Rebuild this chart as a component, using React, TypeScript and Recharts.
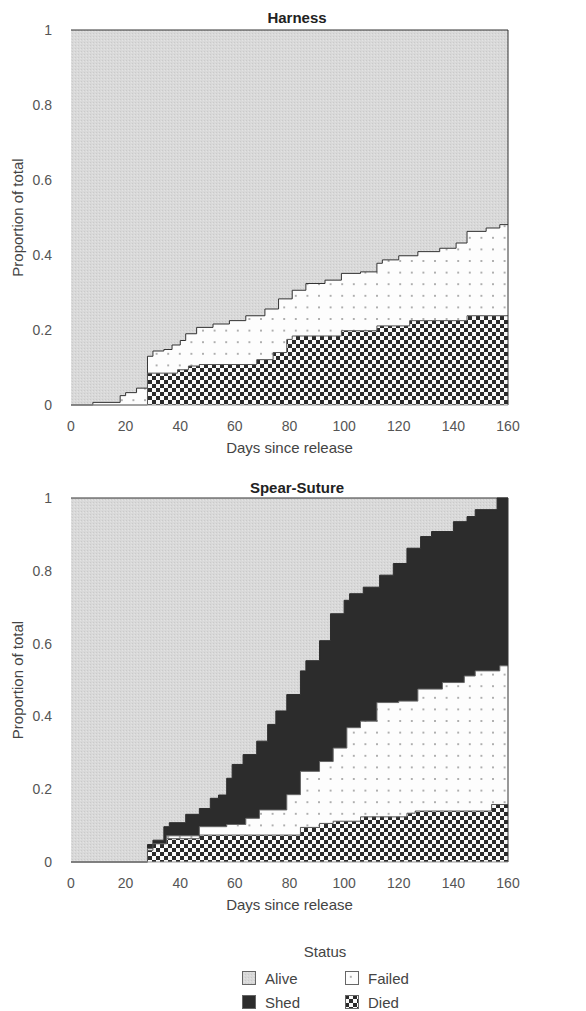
import { AreaChart, Area, XAxis, YAxis, ReferenceLine, Label } from 'recharts'

const FONT = '"Liberation Sans", Arial, sans-serif'

const dayTicks = [0, 20, 40, 60, 80, 100, 120, 140, 160]
const propTicks = [0, 0.2, 0.4, 0.6, 0.8, 1]

// everything still at large sits on top
const aliveDays = [0, 160]
const aliveTop = [1, 1]

// Harness: upper edges of the stacked bands
const harnessFailedDays = [0, 8, 18, 20, 24, 28, 30, 34, 37, 40, 42, 46, 52, 58, 64, 71, 76, 81, 86, 93, 99, 106, 112, 114, 120, 127, 135, 141, 145, 152, 157, 160]
const harnessFailedTop = [0, 0.007, 0.025, 0.033, 0.045, 0.13, 0.144, 0.148, 0.16, 0.172, 0.19, 0.207, 0.216, 0.225, 0.238, 0.256, 0.283, 0.306, 0.324, 0.333, 0.351, 0.355, 0.378, 0.387, 0.398, 0.409, 0.418, 0.432, 0.463, 0.472, 0.481, 0.481]
const harnessDiedDays = [0, 28, 39, 43, 47, 68, 74, 79, 81, 99, 112, 124, 145, 160]
const harnessDiedTop = [0, 0.085, 0.094, 0.104, 0.108, 0.121, 0.14, 0.175, 0.184, 0.198, 0.211, 0.225, 0.238, 0.238]

// Spear-Suture
const spearShedDays = [0, 28, 30, 34, 36, 42, 47, 51, 54, 57, 59, 63, 68, 72, 75, 79, 84, 86, 91, 95, 100, 102, 107, 113, 118, 123, 128, 132, 140, 145, 148, 156, 160]
const spearShedTop = [0, 0.048, 0.06, 0.097, 0.108, 0.131, 0.147, 0.175, 0.184, 0.23, 0.268, 0.295, 0.332, 0.378, 0.415, 0.46, 0.525, 0.553, 0.608, 0.682, 0.719, 0.737, 0.755, 0.788, 0.82, 0.862, 0.894, 0.908, 0.935, 0.949, 0.968, 1, 1]
const spearFailedDays = [0, 28, 31, 35, 47, 57, 64, 69, 79, 84, 91, 96, 101, 106, 112, 120, 127, 136, 144, 148, 157, 160]
const spearFailedTop = [0, 0.037, 0.05, 0.072, 0.097, 0.103, 0.12, 0.143, 0.185, 0.249, 0.276, 0.313, 0.369, 0.387, 0.438, 0.442, 0.475, 0.493, 0.511, 0.525, 0.539, 0.539]
const spearDiedDays = [0, 28, 30, 35, 47, 84, 91, 96, 106, 123, 126, 154, 160]
const spearDiedTop = [0, 0.032, 0.05, 0.064, 0.074, 0.095, 0.106, 0.112, 0.124, 0.134, 0.14, 0.158, 0.158]

const legendItems = [
  { label: 'Alive', fill: 'url(#alive)' },
  { label: 'Failed', fill: 'url(#failed)' },
  { label: 'Shed', fill: '#2c2c2c' },
  { label: 'Died', fill: 'url(#died)' },
]

const zip = (days: number[], vals: number[]) => days.map((day, i) => ({ day, v: vals[i] }))

type Band = { key: string; days: number[]; top: number[]; fill: string; stroke: string }

function Patterns() {
  return (
    <svg width={0} height={0} style={{ position: 'absolute' }}>
      <defs>
        <pattern id="alive" width={3} height={3} patternUnits="userSpaceOnUse">
          <rect width={3} height={3} fill="#d9d9d9" />
          <rect x={0} y={0} width={1} height={1} fill="#cacaca" />
          <rect x={2} y={1} width={1} height={1} fill="#e3e3e3" />
        </pattern>
        <pattern id="failed" width={11.6} height={11.6} patternUnits="userSpaceOnUse">
          <rect width={11.6} height={11.6} fill="#fdfdfd" />
          <rect x={5} y={5} width={1.6} height={1.6} fill="#8a8a8a" />
        </pattern>
        <pattern id="died" width={8} height={8} patternUnits="userSpaceOnUse">
          <rect width={8} height={8} fill="#fafafa" />
          <rect x={0} y={0} width={4} height={4} fill="#2a2a2a" />
          <rect x={4} y={4} width={4} height={4} fill="#2a2a2a" />
        </pattern>
      </defs>
    </svg>
  )
}

function Panel({ title, top, titleTop, marginTop, plotHeight, bands }: { title: string; top: number; titleTop: number; marginTop: number; plotHeight: number; bands: Band[] }) {
  const height = 460
  return (
    <div style={{ position: 'absolute', left: 0, top, width: 586, height }}>
      <div style={{ position: 'absolute', left: 197, width: 200, top: titleTop, lineHeight: '18px', textAlign: 'center', font: `bold 15px ${FONT}`, color: '#222' }}>
        {title}
      </div>
      <AreaChart width={586} height={height} margin={{ top: marginTop, right: 78, bottom: height - marginTop - plotHeight - 50, left: 11 }}>
        <XAxis dataKey="day" type="number" domain={[0, 160]} ticks={dayTicks} height={50} tickLine={false}
          axisLine={{ stroke: '#999' }} tick={{ fill: '#555', fontSize: 14, fontFamily: FONT }} tickMargin={10} allowDataOverflow>
          <Label value="Days since release" position="insideBottom" offset={2} fill="#444" fontSize={15} fontFamily={FONT} />
        </XAxis>
        <YAxis type="number" domain={[0, 1]} ticks={propTicks} width={60} tickLine={false} axisLine={false}
          tick={{ fill: '#555', fontSize: 14, fontFamily: FONT }} tickMargin={13}>
          <Label value="Proportion of total" angle={-90} position="insideLeft" offset={7} fill="#444" fontSize={15} fontFamily={FONT} style={{ textAnchor: 'middle' }} />
        </YAxis>
        {bands.map((b) => (
          <Area key={b.key} name={b.key} data={zip(b.days, b.top)} dataKey="v" type="stepAfter" fill={b.fill} fillOpacity={1}
            stroke={b.stroke} strokeWidth={1} dot={false} activeDot={false} isAnimationActive={false} />
        ))}
        <ReferenceLine x={160} stroke="#333" />
      </AreaChart>
    </div>
  )
}

function StatusLegend() {
  return (
    <div style={{ position: 'absolute', left: 0, top: 940, width: 586, height: 71, fontFamily: FONT, fontSize: 15, color: '#444' }}>
      <div style={{ position: 'absolute', left: 275, width: 100, top: 3, textAlign: 'center', lineHeight: '18px' }}>Status</div>
      {legendItems.map((it, i) => (
        <div key={it.label} style={{ position: 'absolute', left: i % 2 === 0 ? 242 : 345, top: i < 2 ? 29 : 53, display: 'flex', alignItems: 'center', height: 18 }}>
          <svg width={14} height={14} style={{ marginRight: 9 }}>
            <rect x={0.5} y={0.5} width={13} height={13} fill={it.fill} stroke="#666" />
          </svg>
          <span>{it.label}</span>
        </div>
      ))}
    </div>
  )
}

export default function App() {
  const harness: Band[] = [
    { key: 'Alive', days: aliveDays, top: aliveTop, fill: 'url(#alive)', stroke: '#333' },
    { key: 'Failed', days: harnessFailedDays, top: harnessFailedTop, fill: 'url(#failed)', stroke: '#333' },
    { key: 'Died', days: harnessDiedDays, top: harnessDiedTop, fill: 'url(#died)', stroke: '#555' },
  ]
  const spear: Band[] = [
    { key: 'Alive', days: aliveDays, top: aliveTop, fill: 'url(#alive)', stroke: '#333' },
    { key: 'Shed', days: spearShedDays, top: spearShedTop, fill: '#2c2c2c', stroke: '#2c2c2c' },
    { key: 'Failed', days: spearFailedDays, top: spearFailedTop, fill: 'url(#failed)', stroke: '#666' },
    { key: 'Died', days: spearDiedDays, top: spearDiedTop, fill: 'url(#died)', stroke: '#555' },
  ]
  return (
    <div style={{ position: 'absolute', left: 0, top: 0, width: 586, height: 1011, background: '#fff' }}>
      <Patterns />
      <Panel title="Harness" top={0} titleTop={9} marginTop={30} plotHeight={375} bands={harness} />
      <Panel title="Spear-Suture" top={460} titleTop={19} marginTop={38} plotHeight={364} bands={spear} />
      <StatusLegend />
    </div>
  )
}
